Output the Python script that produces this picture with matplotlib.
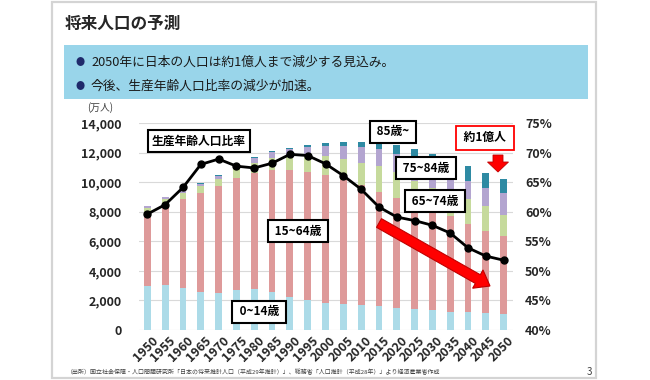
import matplotlib
matplotlib.use('Agg')
import matplotlib.pyplot as plt
import matplotlib.patches as mpatches
import matplotlib.transforms as mtransforms
import numpy as np

plt.rcParams['font.family'] = ['Noto Sans CJK JP', 'DejaVu Sans']

# data (万人)
years = [1950, 1955, 1960, 1965, 1970, 1975, 1980, 1985, 1990, 1995, 2000,
         2005, 2010, 2015, 2020, 2025, 2030, 2035, 2040, 2045, 2050]
age_0_14 = [2943, 3012, 2843, 2553, 2515, 2722, 2751, 2603, 2249, 2001, 1847,
            1759, 1680, 1595, 1507, 1407, 1321, 1246, 1194, 1138, 1077]
age_15_64 = [5017, 5517, 6047, 6744, 7212, 7581, 7883, 8251, 8590, 8716, 8622,
             8409, 8103, 7728, 7406, 7170, 6875, 6494, 5978, 5584, 5275]
age_65_74 = [309, 354, 378, 432, 515, 600, 688, 776, 892, 1109, 1301,
             1407, 1517, 1755, 1747, 1497, 1428, 1522, 1681, 1643, 1424]
age_75_84 = [92, 112, 143, 167, 190, 235, 312, 379, 482, 559, 679,
             876, 1048, 1136, 1252, 1460, 1439, 1268, 1216, 1266, 1487]
age_85 = [10, 13, 19, 25, 34, 52, 65, 92, 115, 158, 224,
          293, 383, 496, 620, 720, 849, 992, 1024, 1010, 930]
# 生産年齢人口比率 (%)
ratio = [59.6, 61.2, 64.1, 68.0, 68.9, 67.7, 67.4, 68.2, 69.7, 69.5, 68.1,
         66.1, 63.8, 60.8, 59.1, 58.5, 57.7, 56.4, 53.9, 52.5, 51.8]

left_ticks = [0, 2000, 4000, 6000, 8000, 10000, 12000, 14000]
right_ticks = [40, 45, 50, 55, 60, 65, 70, 75]

W, H = 650, 380
fig = plt.figure(figsize=(6.5, 3.8), dpi=100)
fig.patch.set_facecolor('white')


def fx(x):
    return x / W


def fy(y):
    return 1 - y / H


# slide card
fig.patches.append(mpatches.Rectangle((fx(52), fy(378)), fx(544), 376 / H,
                                      transform=fig.transFigure, facecolor='white',
                                      edgecolor='#d4d4d4', linewidth=1.6, zorder=-5))
# blue message box
fig.patches.append(mpatches.Rectangle((fx(64), fy(99)), fx(524), 54 / H,
                                      transform=fig.transFigure, facecolor='#99d5ea',
                                      edgecolor='none', zorder=-4))

fig.text(fx(65), fy(24), '将来人口の予測', fontsize=12, fontweight='bold',
         color='#262626', va='center')
for yy, s in [(62, '2050年に日本の人口は約1億人まで減少する見込み。'),
              (86, '今後、生産年齢人口比率の減少が加速。')]:
    fig.text(fx(80), fy(yy), '●', fontsize=6.5, color='#1f2a6b', ha='center', va='center')
    fig.text(fx(91), fy(yy), s, fontsize=9.2, color='#1a1a1a', va='center')

# chart
ax = fig.add_axes([fx(138.5), fy(330), fx(374), 207 / H])
ax.patch.set_alpha(0)
x = np.arange(len(years))
w = 0.38
c_0_14 = '#acdbe8'
c_15_64 = '#de9a9a'
c_65_74 = '#c6da9c'
c_75_84 = '#b3a5d0'
c_85 = '#2e8aa3'

bottom = np.zeros(len(years))
for vals, col in [(age_0_14, c_0_14), (age_15_64, c_15_64), (age_65_74, c_65_74),
                  (age_75_84, c_75_84), (age_85, c_85)]:
    ax.bar(x, vals, w, bottom=bottom, color=col, zorder=2)
    bottom += np.array(vals)

ax.set_xlim(-0.5, len(years) - 0.5)
ax.set_ylim(0, 14000)
ax.set_yticks(left_ticks)
ax.set_yticklabels([f'{v:,}' for v in left_ticks])
ax.set_xticks(x)
ax.set_xticklabels([str(yv) for yv in years], rotation=45, ha='right',
                   rotation_mode='anchor')
ax.grid(axis='y', color='#d9d9d9', linewidth=0.8, zorder=0)
ax.set_axisbelow(True)
for sp in ax.spines.values():
    sp.set_visible(False)
ax.tick_params(axis='both', length=0, labelsize=9, labelcolor='#262626')
ax.tick_params(axis='y', pad=12)
ax.tick_params(axis='x', pad=3)
shift = mtransforms.ScaledTranslation(4 / 100, 0, fig.dpi_scale_trans)
for lbl in ax.get_xticklabels():
    lbl.set_fontweight('bold')
    lbl.set_transform(lbl.get_transform() + shift)
for lbl in ax.get_yticklabels():
    lbl.set_fontweight('bold')

ax2 = ax.twinx()
ax2.plot(x, ratio, color='black', linewidth=2, marker='o', markersize=5, zorder=5)
ax2.set_ylim(40, 75)
ax2.set_yticks(right_ticks)
ax2.set_yticklabels([f'{v}%' for v in right_ticks])
for sp in ax2.spines.values():
    sp.set_visible(False)
ax2.tick_params(axis='y', length=0, labelsize=9, labelcolor='#262626', pad=9)
for lbl in ax2.get_yticklabels():
    lbl.set_fontweight('bold')

fig.text(fx(87), fy(108), '(万人)', fontsize=7, color='#404040', va='center')

# labels
box = dict(boxstyle='square,pad=0.35', facecolor='white', edgecolor='black', linewidth=1.5)
for (cx, cy), s in [((199, 141), '生産年齢人口比率'), ((298, 231), ' 15~64歳 '),
                    ((259, 312), ' 0~14歳 '), ((393, 132), ' 85歳~ '),
                    ((426, 168), ' 75~84歳 '), ((435, 201), ' 65~74歳 ')]:
    fig.text(fx(cx), fy(cy), s, fontsize=8.5, fontweight='bold', ha='center',
             va='center', bbox=box, zorder=6)
fig.text(fx(485), fy(138), ' 約1億人 ', fontsize=8.5, fontweight='bold', ha='center',
         va='center', zorder=6,
         bbox=dict(boxstyle='square,pad=0.45', facecolor='white', edgecolor='#ff0000',
                   linewidth=1.3))

# red arrows (inches from bottom-left)
big = mpatches.FancyArrow(3.79, (H - 223) / 100, 1.11, -0.63, width=0.10,
                          head_width=0.21, head_length=0.14, length_includes_head=True,
                          transform=fig.dpi_scale_trans, facecolor='#ff0000',
                          edgecolor='#c00000', linewidth=0.8, zorder=7)
fig.patches.append(big)
small = mpatches.FancyArrow(4.98, (H - 155) / 100, 0, -0.17, width=0.10,
                            head_width=0.21, head_length=0.10, length_includes_head=True,
                            transform=fig.dpi_scale_trans, facecolor='#ff0000',
                            edgecolor='#c00000', linewidth=0.6, zorder=7)
fig.patches.append(small)

fig.text(fx(67), fy(372), '（出所）国立社会保障・人口問題研究所「日本の将来推計人口（平成29年推計）」、'
         '総務省「人口推計（平成28年）」より経済産業省作成', fontsize=4.3, color='#404040',
         va='center')
fig.text(fx(589), fy(372), '3', fontsize=7, color='#404040', va='center', ha='center')

fig.savefig('out.png', dpi=100)
